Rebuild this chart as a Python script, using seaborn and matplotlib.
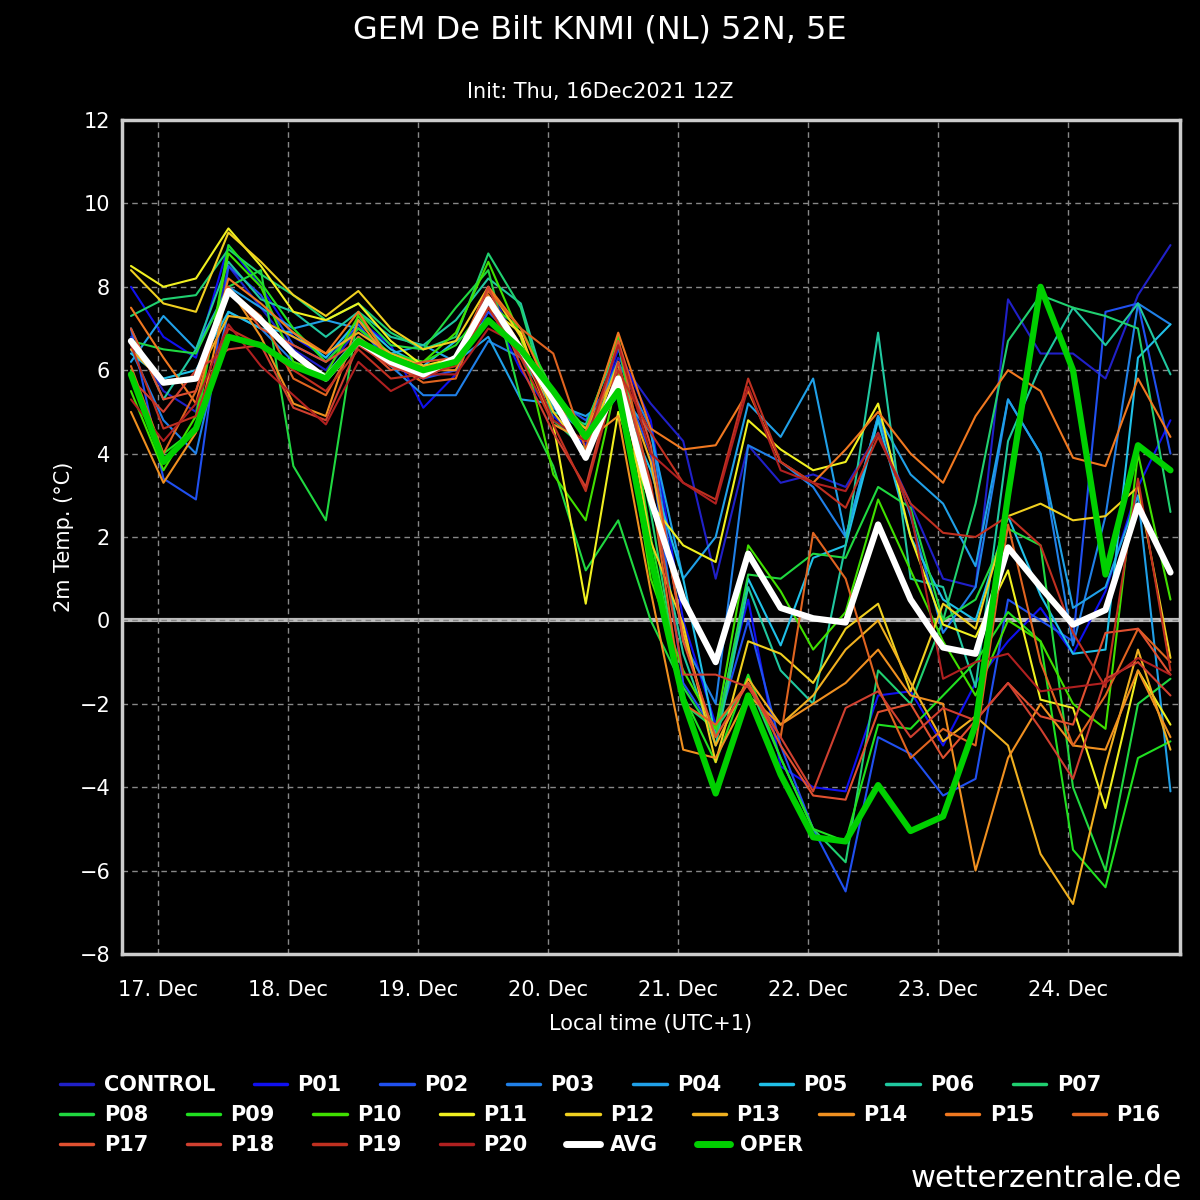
import numpy as np
import pandas as pd
import matplotlib
matplotlib.use("Agg")
import matplotlib.pyplot as plt
import seaborn as sns

day_labels = ["17. Dec", "18. Dec", "19. Dec", "20. Dec", "21. Dec", "22. Dec", "23. Dec", "24. Dec"]

members = {
    "CONTROL": [6.8,5.5,5.0,8.5,7.5,6.5,6.0,7.0,6.3,5.8,6.2,8.0,6.5,5.2,4.5,6.3,5.2,4.3,1.0,4.2,3.3,3.5,3.2,4.5,2.8,1.0,0.8,7.7,6.4,6.4,5.8,7.8,9.0],
    "P01": [8.0,6.8,6.3,9.0,8.0,6.8,6.3,7.2,6.6,5.1,5.9,7.6,6.0,4.9,4.2,6.5,4.8,0.0,-2.5,0.5,-3.5,-4.0,-4.1,-1.8,-1.7,-3.0,-1.5,-0.5,0.3,-0.8,0.7,3.2,4.8],
    "P02": [7.0,3.4,2.9,8.5,7.8,6.6,6.2,7.1,6.1,5.8,6.0,7.4,6.6,5.3,4.8,6.0,4.0,-1.5,-2.7,0.0,-3.0,-5.0,-6.5,-2.8,-3.2,-4.2,-3.8,0.5,0.0,-0.5,7.4,7.6,4.0],
    "P03": [6.5,4.8,4.0,7.4,7.0,6.2,5.9,6.8,6.1,5.4,5.4,6.7,6.3,5.1,4.5,6.2,4.6,-0.5,-2.0,4.2,3.8,3.2,2.0,4.9,2.5,-0.3,0.8,5.3,4.0,-0.6,2.5,7.6,7.1],
    "P04": [6.2,7.3,6.5,8.0,7.5,7.0,7.2,7.0,6.4,6.6,6.2,6.8,5.3,5.2,4.9,5.5,4.5,1.0,2.0,5.2,4.4,5.8,2.0,4.9,3.5,2.8,1.3,5.3,4.0,0.3,0.8,3.0,-4.1],
    "P05": [6.4,5.8,6.0,7.4,7.0,6.9,6.3,7.2,6.5,6.1,6.7,7.2,6.6,5.3,4.4,5.4,3.6,1.0,-2.8,1.0,-0.6,1.5,1.8,4.8,2.0,0.5,0.0,2.5,0.6,-0.8,-0.7,6.3,7.1],
    "P06": [7.0,5.3,6.5,8.6,7.7,7.4,6.8,7.4,6.8,6.6,7.2,8.2,7.6,5.0,4.7,6.6,3.0,-0.8,-3.0,0.8,-1.2,-2.0,1.8,6.9,1.0,0.8,-1.6,4.3,6.1,7.5,6.6,7.6,5.9],
    "P07": [7.3,7.7,7.8,8.9,8.3,7.8,7.2,7.6,6.9,6.5,6.8,8.8,7.5,4.8,4.1,6.2,2.6,-2.0,-2.6,-1.5,-3.3,-5.0,-5.8,-1.2,-2.0,0.0,2.8,6.7,7.8,7.5,7.3,7.0,2.6],
    "P08": [6.7,6.5,6.4,8.0,8.4,3.7,2.4,7.4,6.6,6.5,7.5,8.4,5.3,3.7,1.2,2.4,0.0,-1.6,-2.8,1.1,1.0,1.6,1.5,3.2,2.7,0.0,0.5,2.2,1.8,-4.0,-6.0,-2.0,-1.4],
    "P09": [6.0,4.0,4.6,9.0,8.1,7.0,6.2,7.0,6.4,6.2,6.6,7.6,7.0,5.5,4.6,6.8,2.0,-1.8,-3.4,-1.3,-3.3,-5.0,-5.3,-2.5,-2.6,-1.8,-1.0,0.2,-0.5,-5.5,-6.4,-3.3,-2.9],
    "P10": [5.5,3.6,4.9,8.8,8.0,6.2,5.9,7.3,6.3,6.2,6.9,8.6,6.8,3.5,2.4,5.9,1.0,-1.2,-2.6,1.8,0.7,-0.7,0.2,2.9,1.2,-0.5,-1.8,0.0,-0.5,-2.0,-2.6,4.0,0.5],
    "P11": [8.5,8.0,8.2,9.4,8.5,7.4,7.2,7.6,6.7,6.1,6.3,7.5,6.9,4.7,0.4,5.0,2.8,1.8,1.4,4.8,4.1,3.6,3.8,5.2,2.0,-0.1,-0.4,1.2,-1.9,-2.1,-4.5,-1.2,-2.5],
    "P12": [8.4,7.6,7.4,9.3,8.6,7.8,7.3,7.9,7.0,6.5,6.7,8.0,6.8,5.0,4.0,6.2,1.9,-0.1,-3.4,-0.5,-0.8,-1.5,-0.2,0.4,-1.7,0.4,-0.2,2.5,2.8,2.4,2.5,3.2,-0.9],
    "P13": [6.5,5.7,5.8,7.3,7.2,6.8,6.4,6.9,6.4,6.1,6.2,7.2,6.6,5.2,4.6,6.0,3.8,-0.3,-3.0,-1.4,-2.5,-1.8,-0.7,0.0,-1.5,-2.9,-2.3,-3.0,-5.6,-6.8,-3.5,-0.7,-3.1],
    "P14": [5.0,3.3,4.5,8.0,6.8,5.2,4.9,7.2,6.2,6.0,6.0,7.8,6.6,4.7,4.3,4.9,0.7,-3.1,-3.3,-1.8,-2.5,-2.0,-1.5,-0.7,-1.8,-2.0,-6.0,-3.3,-2.0,-3.0,-3.1,-1.2,-2.8],
    "P15": [7.5,6.3,5.2,8.2,7.6,6.9,6.4,7.4,6.2,6.0,6.3,8.0,7.0,5.3,4.5,6.9,4.6,4.1,4.2,5.5,3.8,3.3,4.1,5.0,4.0,3.3,4.9,6.0,5.5,3.9,3.7,5.8,4.4],
    "P16": [6.1,4.0,5.5,7.9,7.3,5.8,5.4,6.8,6.2,5.7,5.8,7.9,7.0,6.4,4.1,6.7,3.2,-2.0,-2.5,-1.5,-2.8,2.1,1.0,-1.6,-3.3,-2.6,-3.0,2.3,-1.0,-3.0,-1.8,-0.2,-1.0],
    "P17": [7.0,5.3,5.5,8.0,7.0,6.6,6.2,6.7,6.0,6.2,6.3,7.5,6.3,5.5,3.9,6.7,4.2,-0.5,-2.8,-1.5,-3.0,-4.2,-4.3,-2.2,-2.0,-3.3,-2.4,-1.5,-2.3,-2.5,-0.3,-0.2,-1.3],
    "P18": [5.8,5.0,6.0,6.5,6.6,5.1,4.8,6.6,6.1,5.8,6.2,8.0,6.1,4.5,3.2,6.2,3.3,-1.3,-1.3,-1.6,-2.8,-4.1,-2.1,-1.7,-2.8,-2.1,-2.4,-1.5,-2.6,-3.8,-1.4,-1.0,-1.8],
    "P19": [6.6,4.6,4.9,7.0,6.6,6.0,5.5,6.5,5.8,5.9,6.1,7.5,6.3,4.7,3.1,6.0,4.5,3.3,2.9,5.8,3.8,3.3,2.7,4.4,2.8,2.1,2.0,2.5,1.8,-0.3,-1.6,3.4,-1.2],
    "P20": [5.3,4.3,5.2,7.1,6.1,5.4,4.7,6.2,5.5,5.9,5.9,7.0,6.6,4.8,4.3,6.6,4.0,3.3,2.8,5.6,3.6,3.3,3.1,4.5,2.6,-1.4,-1.0,-0.8,-1.7,-1.6,-1.5,-0.9,-1.3],
}
avg = [6.7,5.7,5.8,7.9,7.2,6.4,5.8,6.7,6.2,5.9,6.3,7.7,6.5,5.3,3.9,5.8,2.9,0.5,-1.0,1.6,0.3,0.05,-0.05,2.3,0.5,-0.65,-0.8,1.75,0.8,-0.1,0.25,2.75,1.15]
oper = [5.9,3.8,4.6,6.8,6.6,6.1,5.8,6.7,6.3,6.0,6.2,7.2,6.5,5.5,4.4,5.5,1.5,-1.9,-4.15,-1.8,-3.7,-5.2,-5.3,-3.95,-5.05,-4.7,-2.5,3.0,8.0,6.0,1.1,4.2,3.6]

colors = ["#2020c8", "#1010f0", "#2050f0", "#2080e8", "#20a0e8", "#20c0e8", "#20c8a0",
          "#20d070", "#20d840", "#20e020", "#40e000", "#f0f020", "#f0d020", "#f0b020",
          "#f09020", "#f07820", "#e06420", "#e05030", "#d04030", "#c03020", "#b02020"]

# time in days from 17 Dec 00 local, 6-hourly from 16 Dec 19h
t = -5 / 24 + 0.25 * np.arange(33)

sns.set_style("dark")
plt.rcParams['font.family'] = ['DejaVu Sans']
fig = plt.figure(figsize=(12, 12), dpi=100, facecolor="black")
ax = fig.add_axes([0.1017, 0.205, 0.8813, 0.695], facecolor="black")

for (name, vals), c in zip(members.items(), colors):
    sns.lineplot(x=t, y=vals, color=c, lw=1.5, ax=ax, label=name, legend=False)
sns.lineplot(x=t, y=avg, color="white", lw=4.5, ax=ax, label="AVG", legend=False)
sns.lineplot(x=t, y=oper, color="#00d000", lw=4.5, ax=ax, label="OPER", legend=False)

ax.axhline(0, color="#bbbbbb", lw=3, zorder=0)
ax.set_xlim(-0.277, 7.862)
ax.set_ylim(-8, 12)
ax.set_yticks(range(-8, 13, 2))
ax.set_yticklabels([str(v).replace("-", "\u2212") for v in range(-8, 13, 2)])
ax.set_xticks(range(8))
ax.set_xticklabels(day_labels)
ax.grid(True, color="#888888", ls=(0, (4, 3)), lw=1)
ax.tick_params(colors="white", labelsize=15, length=5, color="white")
ax.tick_params(axis="x", pad=14)
for s in ax.spines.values():
    s.set_color("#cccccc")
    s.set_linewidth(2.5)
ax.set_xlabel("Local time (UTC+1)", color="white", fontsize=15, labelpad=10)
ax.set_ylabel("2m Temp. (°C)", color="white", fontsize=15)

fig.text(0.5, 0.975, "GEM De Bilt KNMI (NL) 52N, 5E", color="white", fontsize=23, ha="center", va="center")
fig.text(0.5, 0.923, "Init: Thu, 16Dec2021 12Z", color="white", fontsize=15, ha="center", va="center")
fig.text(0.985, 0.018, "wetterzentrale.de", color="white", fontsize=22, ha="right", va="center")

# flowing legend: three rows like the original
lines = ax.get_lines()
handles = [l for l in lines if not l.get_label().startswith("_")]
rows = [handles[0:8], handles[8:17], handles[17:]]
row_y = [0.096, 0.071, 0.046]
for row, y in zip(rows, row_y):
    leg = fig.legend(row, [h.get_label() for h in row], loc="center left",
                     bbox_to_anchor=(0.05, y), ncol=len(row), frameon=False,
                     fontsize=15, handlelength=1.6, columnspacing=1.85,
                     handletextpad=0.5, borderpad=0, borderaxespad=0)
    for txt in leg.get_texts():
        txt.set_color("white")
        txt.set_fontweight("bold")
    for line in leg.get_lines():
        line.set_linewidth(2.5 if line.get_linewidth() < 3 else 5)

fig.savefig("out.png", dpi=100, facecolor="black")
